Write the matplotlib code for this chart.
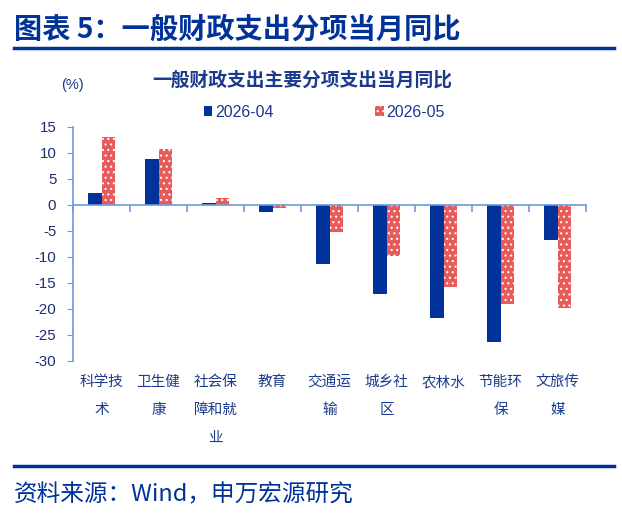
import matplotlib
matplotlib.use('Agg')
import matplotlib.pyplot as plt
import matplotlib.transforms as mtransforms
from matplotlib.patches import Patch
from matplotlib.lines import Line2D
import numpy as np

plt.rcParams['font.family'] = ['Noto Sans CJK SC', 'DejaVu Sans']
plt.rcParams['hatch.linewidth'] = 0.8
plt.rcParams['hatch.color'] = 'white'

# 分项及两个月的同比（%）
categories = ['科学技\n术', '卫生健\n康', '社会保\n障和就\n业', '教育', '交通运\n输',
              '城乡社\n区', '农林水', '节能环\n保', '文旅传\n媒']
apr_vals = [2.4, 8.8, 0.4, -1.3, -11.4, -17.1, -21.7, -26.3, -6.7]
may_vals = [13.0, 10.8, 1.3, -0.5, -5.1, -9.8, -15.7, -19.1, -19.9]
series_names = ['2026-04', '2026-05']
yticks = [15, 10, 5, 0, -5, -10, -15, -20, -25, -30]

BLUE = '#00329A'
RED = '#E85B5B'
AXIS = '#6A9BDB'
TXT = '#1B3A8C'

fig = plt.figure(figsize=(6.22, 5.2), dpi=100)
ax = fig.add_axes([73 / 622, 1 - 361 / 520, 513 / 622, 234 / 520])

x = np.arange(len(categories))
w = 0.235
ax.bar(x - w / 2, apr_vals, w, color=BLUE, linewidth=0)
ax.bar(x + w / 2, may_vals, w, color=RED, edgecolor='white', linewidth=0, hatch='...')

ax.set_xlim(-0.5, len(categories) - 0.5)
ax.set_ylim(-30, 15)
ax.set_yticks(yticks)
ax.set_yticklabels([str(v) for v in yticks], family='Liberation Sans', fontsize=10.8, color='#1B2F6E')

for s in ['top', 'right']:
    ax.spines[s].set_visible(False)
ax.spines['left'].set_color(AXIS)
ax.spines['left'].set_linewidth(1.2)
ax.spines['bottom'].set_position(('data', 0))
ax.spines['bottom'].set_color(AXIS)
ax.spines['bottom'].set_linewidth(1.2)
ax.tick_params(axis='y', direction='out', length=4, color=AXIS, pad=8)
ax.set_xticks(np.arange(-0.5, len(categories), 1.0))
ax.set_xticklabels([])
ax.tick_params(axis='x', direction='out', length=5, color=AXIS, width=1.2)

trans = mtransforms.blended_transform_factory(ax.transData, ax.transAxes)
for xi, lab in zip(x, categories):
    ax.text(xi, -0.06, lab, transform=trans, ha='center', va='top', fontsize=10.5,
            color=TXT, linespacing=2.25)

fig.text(72 / 622, 1 - 85 / 520, '(%)', ha='center', va='center',
         fontsize=10.5, color=TXT, family='Liberation Sans')
fig.text(302 / 622, 1 - 80 / 520, '一般财政支出主要分项支出当月同比', ha='center', va='center',
         fontsize=13.5, fontweight='bold', color=TXT)

handles = [Patch(facecolor=BLUE, linewidth=0),
           Patch(facecolor=RED, edgecolor='white', linewidth=0, hatch='...')]
leg = ax.legend(handles, series_names, loc='center', bbox_to_anchor=(0.49, 1.064), ncol=2,
                frameon=False, handlelength=0.55, handleheight=0.55, handletextpad=0.2,
                columnspacing=6.3, prop={'family': 'Liberation Sans', 'size': 11.5})
for t in leg.get_texts():
    t.set_color(TXT)

fig.text(14 / 622, 1 - 30 / 520, '图表 5：一般财政支出分项当月同比', ha='left', va='center',
         fontsize=20.3, fontweight='bold', color=BLUE)
fig.add_artist(Line2D([14 / 622, 614 / 622], [1 - 48 / 520] * 2, color=BLUE, linewidth=2.5))
fig.add_artist(Line2D([14 / 622, 614 / 622], [1 - 466 / 520] * 2, color=BLUE, linewidth=2.5))
fig.text(14 / 622, 1 - 495 / 520, '资料来源：Wind，申万宏源研究', ha='left', va='center',
         fontsize=17, color=BLUE)

fig.savefig('out.png', dpi=100)
